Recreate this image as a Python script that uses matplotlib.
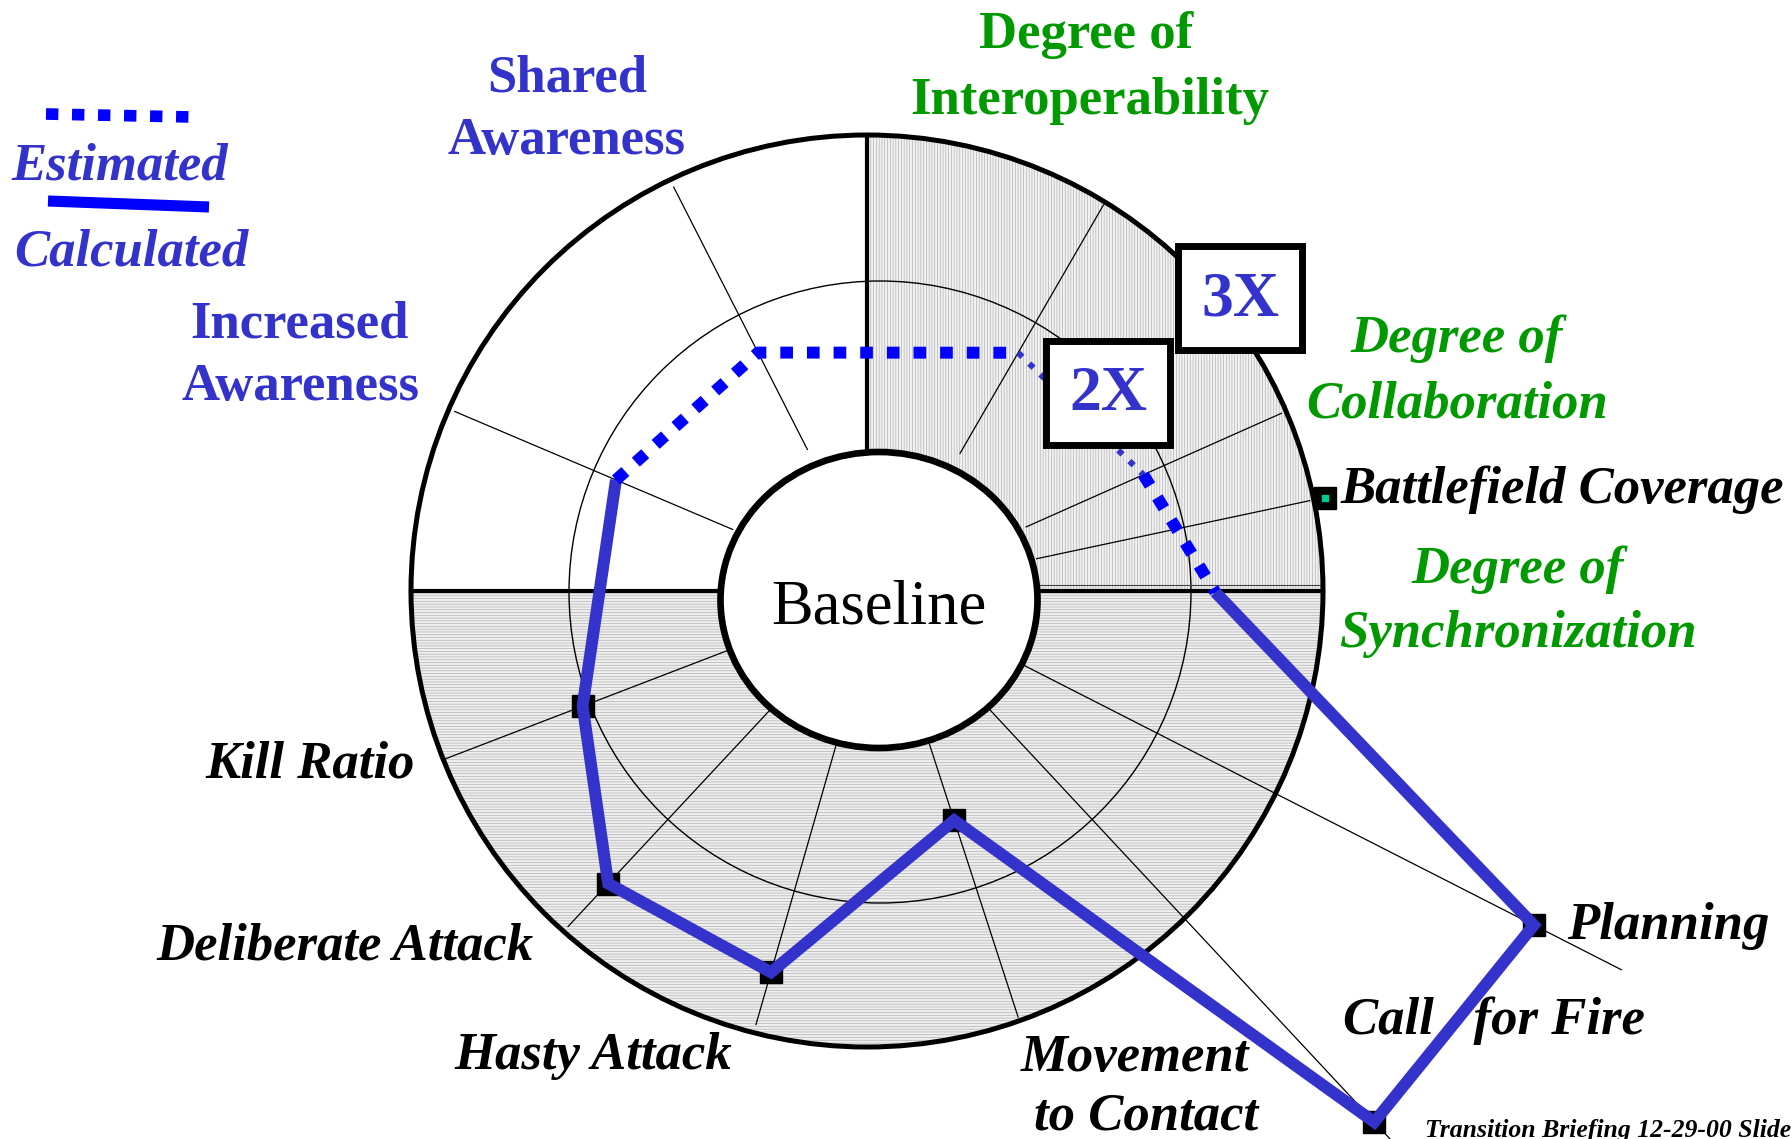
import numpy as np
import matplotlib
matplotlib.use("Agg")
import matplotlib.pyplot as plt
from matplotlib.patches import Circle, Ellipse, Wedge, Rectangle

W, H = 1792, 1139

# spokes: angle in degrees (counter-clockwise from 3 o'clock) and how far out they run (in "X" units)
spoke_names = ["Battlefield Coverage", "Degree of Collaboration", "Degree of Interoperability",
               "Shared Awareness", "Increased Awareness", "Kill Ratio", "Deliberate Attack",
               "Hasty Attack", "Movement to Contact", "Call for Fire", "Planning"]
spoke_angles = [12, 24, 60, 117, 157, 201, 227, 254, 288, 313, 333]
spoke_ends = [2.85, 2.85, 2.9, 2.95, 3.0, 3.05, 2.97, 2.92, 2.9, 5.0, 5.45]

# estimated (dotted) values
est_names = ["Increased Awareness", "Shared Awareness", "Degree of Interoperability",
             "Degree of Collaboration", "Degree of Synchronization"]
est_angles = [157, 117, 60, 24, 0]
est_values = [1.84, 1.72, 1.77, 1.85, 2.16]

# calculated (solid) values
calc_names = ["Increased Awareness", "Kill Ratio", "Deliberate Attack", "Hasty Attack",
              "Movement to Contact", "Call for Fire", "Planning", "Degree of Synchronization"]
calc_angles = [157, 201, 227, 254, 288, 313, 333, 0]
calc_values = [1.84, 2.05, 2.58, 2.56, 1.53, 4.74, 4.80, 2.16]

# measured points (square markers)
mark_names = ["Battlefield Coverage", "Kill Ratio", "Deliberate Attack", "Hasty Attack",
              "Movement to Contact", "Call for Fire", "Planning"]
mark_angles = [12, 201, 227, 254, 288, 313, 333]
mark_values = [2.95, 2.05, 2.58, 2.56, 1.53, 4.74, 4.80]

BLUE_TXT = "#3333cc"
BLUE = "#0000ff"
GREEN = "#009900"
TEAL = "#00c896"
SERIF = "Liberation Serif"

# centre of the rings and radial scale (pixels)
CX, CY = 880, 592
R1, STEP = 160, 151


def to_xy(angle, value):
    a = np.radians(np.asarray(angle, float))
    r = R1 + STEP * (np.asarray(value, float) - 1)
    return CX + r * np.cos(a), CY - r * np.sin(a)


plt.rcParams["hatch.linewidth"] = 0.5
plt.rcParams["hatch.color"] = "#b4b4b4"

fig = plt.figure(figsize=(W / 100, H / 100), dpi=100)
ax = fig.add_axes([0, 0, 1, 1])
ax.set_xlim(0, W)
ax.set_ylim(H, 0)
ax.axis("off")

# outer ring (slightly off the data centre in the original)
OX, OY, OR = 867, 591, 456

# shaded sectors (y axis is inverted, so angles run clockwise on screen)
ax.add_patch(Wedge((OX, OY), OR, 270, 360, facecolor="#f1f1f1", edgecolor="#b4b4b4",
                   lw=0, hatch="||||||", zorder=1))
ax.add_patch(Wedge((OX, OY), OR, 0, 180, facecolor="#efefef", edgecolor="#b0b0b0",
                   lw=0, hatch="------", zorder=1))

# 2X ring and spokes
ax.add_patch(Circle((CX, CY), R1 + STEP, fill=False, ec="black", lw=1.0, zorder=2))
for ang, end in zip(spoke_angles, spoke_ends):
    xs, ys = to_xy([ang, ang], [1, end])
    ax.plot(xs, ys, color="black", lw=0.9, zorder=2)

# thick dividers
ax.plot([OX - OR, OX + OR], [OY, OY], color="black", lw=3.0, zorder=3)
ax.plot([OX, OX], [OY - OR, OY], color="black", lw=3.0, zorder=3)
ax.plot([1030, OX + OR], [OY - 6, OY - 6], color="#444444", lw=0.8, zorder=3)
ax.add_patch(Circle((OX, OY), OR, fill=False, ec="black", lw=3.6, zorder=3))

# baseline circle
ax.add_patch(Ellipse((879, 600), 317, 296, facecolor="white", edgecolor="black", lw=4.8, zorder=4))
ax.text(879, 623, "Baseline", fontsize=45, family=SERIF, ha="center", va="baseline", zorder=9)

# markers
mx, my = to_xy(mark_angles, mark_values)
ax.plot(mx, my, "s", color="black", ms=16, zorder=5)
ax.plot(mx, my, "s", color=TEAL, ms=5, zorder=5)

# calculated line
cx_, cy_ = to_xy(calc_angles, calc_values)
ax.plot(cx_, cy_, color=BLUE_TXT, lw=8.6, solid_joinstyle="miter", solid_capstyle="butt", zorder=6)

# estimated line: thick dots, thin dots between interoperability and collaboration
ex, ey = to_xy(est_angles, est_values)
ax.plot(ex[:3], ey[:3], color=BLUE, lw=8.6, linestyle=(0, (1.06, 1.17)), zorder=6)
ax.plot(ex[2:4], ey[2:4], color=BLUE_TXT, lw=4.3, linestyle=(0, (1.0, 1.6)), zorder=6)
ax.plot(ex[3:], ey[3:], color=BLUE, lw=8.6, linestyle=(0, (1.06, 1.17)), zorder=6)

# 2X / 3X boxes
for (bx, by), s in [((1108, 393), "2X"), ((1240, 298), "3X")]:
    ax.add_patch(Rectangle((bx - 62, by - 52), 124, 104, facecolor="white", edgecolor="black",
                           lw=5, zorder=7))
    ax.text(bx, by + 2, s, color=BLUE_TXT, fontsize=46, fontweight="bold", family=SERIF,
            ha="center", va="center", zorder=9)

# legend
ax.plot([46, 192], [114, 117], color=BLUE, lw=8.4, linestyle=(0, (1.06, 1.17)), zorder=6)
ax.plot([48, 209], [201, 207], color=BLUE, lw=8.0, solid_capstyle="butt", zorder=6)


def label(x, y, s, color="black", style="italic", size=38, ha="center"):
    ax.text(x, y, s, color=color, fontsize=size, fontstyle=style, fontweight="bold",
            family=SERIF, ha=ha, va="baseline", zorder=9)


label(120, 179, "Estimated", BLUE_TXT)
label(131, 266, "Calculated", BLUE_TXT)

label(567, 91, "Shared", BLUE_TXT, "normal")
label(567, 154, "Awareness", BLUE_TXT, "normal")
label(300, 337, "Increased", BLUE_TXT, "normal")
label(300, 400, "Awareness", BLUE_TXT, "normal")

label(1086, 48, "Degree of", GREEN, "normal")
label(1090, 114, "Interoperability", GREEN, "normal")
label(1457, 352, "Degree of", GREEN)
label(1457, 417, "Collaboration", GREEN)
label(1518, 583, "Degree of", GREEN)
label(1518, 647, "Synchronization", GREEN)

label(1340, 503, "Battlefield Coverage", ha="left")
label(310, 777, "Kill Ratio")
label(345, 960, "Deliberate Attack")
label(593, 1069, "Hasty Attack")
label(1135, 1071, "Movement")
label(1146, 1129, "to Contact")
label(1668, 939, "Planning")
label(1494, 1034, "Call   for Fire")
label(1425, 1137, "Transition Briefing 12-29-00 Slide", size=18.5, ha="left")

fig.savefig("out.png", dpi=100)
